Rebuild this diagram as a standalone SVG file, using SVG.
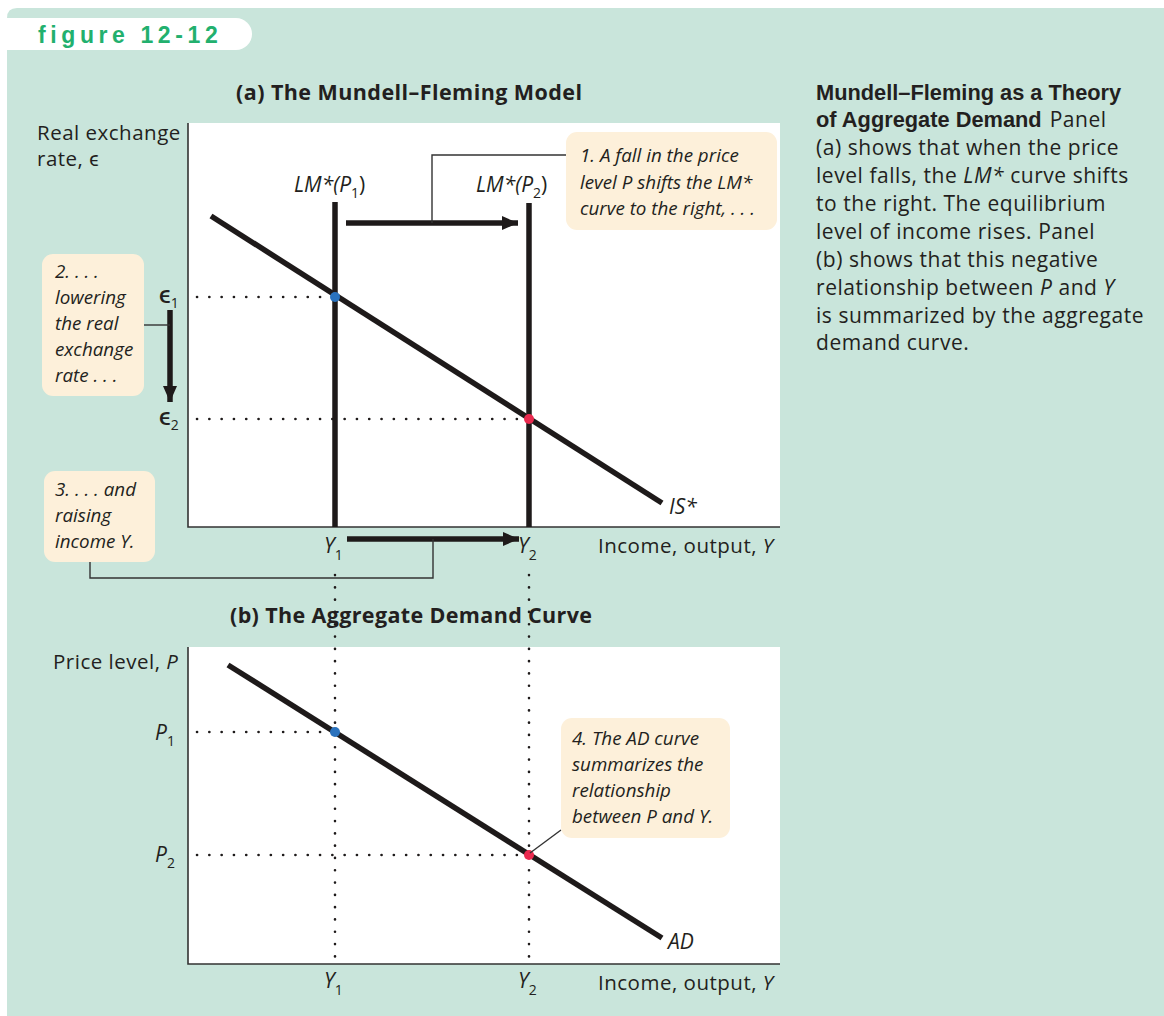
<svg xmlns="http://www.w3.org/2000/svg" width="1164" height="1016" viewBox="0 0 1164 1016">
<defs>
<style>
.bg{fill:#c9e5db}
.plot{fill:#ffffff}
.axis{stroke:#333;stroke-width:1.6;fill:none}
.curve{stroke:#1e1a1a;stroke-width:5.5;fill:none}
.dot{stroke:#1e1a1a;stroke-width:2.6;stroke-dasharray:0.1 12.2;stroke-linecap:round;fill:none}
.conn{stroke:#333;stroke-width:1.4;fill:none}
.note{fill:#fdf0da}
.nt{font-family:"Open Sans",Lato,sans-serif;font-style:italic;font-size:18.8px;fill:#231f20}
.lab{font-family:"Open Sans",Lato,sans-serif;font-size:20.5px;letter-spacing:0.5px;fill:#231f20}
.sym{font-family:"Open Sans",Lato,sans-serif;font-size:21px;font-style:italic;fill:#231f20}
.eps{font-family:"Open Sans",Lato,sans-serif;font-size:25px;font-weight:600;fill:#231f20}
.it{font-style:italic}
.sub{font-size:14px;font-style:normal;font-weight:normal}
.title{font-family:"Open Sans",Lato,sans-serif;font-weight:bold;font-size:21.5px;fill:#231f20}
.body{font-family:"Open Sans",Lato,sans-serif;font-size:21px;letter-spacing:0.55px;fill:#231f20}
.bold{font-family:"Liberation Sans",Arial,sans-serif;font-weight:bold;font-size:21.8px;fill:#231f20}
</style>
<marker id="ah" markerUnits="userSpaceOnUse" markerWidth="18" markerHeight="16" refX="16" refY="8" orient="auto">
<path d="M0,1 L16,8 L0,15 Z" fill="#1e1a1a"/>
</marker>
</defs>

<rect x="0" y="0" width="1164" height="1016" fill="#ffffff"/>
<path class="bg" d="M7,18 Q7,8 17,8 L1164,8 L1164,1016 L7,1016 Z"/>

<g id="tab">
<path d="M0,18 L236,18 A16,16 0 0 1 236,50 L0,50 Z" fill="#ffffff"/>
<text x="38" y="43" font-family="'Liberation Sans',Arial,sans-serif" font-weight="bold" font-size="23px" letter-spacing="4.6" fill="#22b06e">figure 12-12</text>
</g>

<g id="panel-a">
<rect class="plot" x="188" y="123" width="592" height="404"/>
<path class="axis" d="M188,123 L188,527 L780,527"/>
<text class="title" x="236" y="100" textLength="346" lengthAdjust="spacing">(a) The Mundell–Fleming Model</text>
<text class="lab" x="37" y="140">Real exchange</text>
<text class="lab" x="37" y="166">rate, ϵ</text>
<text class="lab" x="598" y="553">Income, output, <tspan class="it">Y</tspan></text>
</g>

<g id="panel-b">
<rect class="plot" x="188" y="647" width="592" height="317"/>
<path class="axis" d="M188,647 L188,964 L780,964"/>
<text class="title" x="230" y="623" textLength="362" lengthAdjust="spacing">(b) The Aggregate Demand Curve</text>
<text class="lab" x="53" y="669">Price level, <tspan class="it">P</tspan></text>
<text class="lab" x="598" y="990">Income, output, <tspan class="it">Y</tspan></text>
</g>

<g id="guides">
<path class="dot" d="M197,297 L333,297"/>
<path class="dot" d="M197,419 L527,419"/>
<path class="dot" d="M335,575 L335,960"/>
<path class="dot" d="M529,575 L529,960"/>
<path class="dot" d="M197,732 L333,732"/>
<path class="dot" d="M197,855 L527,855"/>
</g>

<g id="curves">
<path id="IS" class="curve" d="M211,216 L662,503"/>
<path id="LM1" class="curve" d="M335,202 L335,527"/>
<path id="LM2" class="curve" d="M529,203 L529,527"/>
<path id="AD" class="curve" d="M228,665 L662,938"/>
</g>

<g id="labels">
<text class="sym" x="294" y="192">LM*(P<tspan class="sub" dy="6">1</tspan><tspan dy="-6" font-style="normal">)</tspan></text>
<text class="sym" x="476" y="192">LM*(P<tspan class="sub" dy="6">2</tspan><tspan dy="-6" font-style="normal">)</tspan></text>
<text class="sym" x="669" y="514">IS*</text>
<text class="sym" x="668" y="949">AD</text>
<text class="eps" x="159" y="303">ϵ<tspan class="sub" dy="5">1</tspan></text>
<text class="eps" x="159" y="425">ϵ<tspan class="sub" dy="5">2</tspan></text>
<text class="sym" x="155" y="740">P<tspan class="sub" dy="6">1</tspan></text>
<text class="sym" x="155" y="862">P<tspan class="sub" dy="6">2</tspan></text>
<text class="sym" x="324" y="553">Y<tspan class="sub" dy="7">1</tspan></text>
<text class="sym" x="518" y="553">Y<tspan class="sub" dy="7">2</tspan></text>
<text class="sym" x="324" y="988">Y<tspan class="sub" dy="7">1</tspan></text>
<text class="sym" x="518" y="988">Y<tspan class="sub" dy="7">2</tspan></text>
</g>

<g id="points">
<circle cx="335" cy="297" r="5" fill="#2a72bd"/>
<circle cx="529" cy="419" r="5" fill="#ea2a4f"/>
<circle cx="335" cy="732" r="5" fill="#2a72bd"/>
<circle cx="529" cy="855" r="5" fill="#ea2a4f"/>
</g>

<g id="connectors">
<path class="curve" d="M346,223 L518,223" marker-end="url(#ah)" stroke-width="5"/>
<path class="curve" d="M170,310 L170,402" marker-end="url(#ah)" stroke-width="5"/>
<path class="curve" d="M347,539 L519,539" marker-end="url(#ah)" stroke-width="5"/>
<path class="conn" d="M432,223 L432,155 L566,155"/>
<path class="conn" d="M144,325 L170,325"/>
<path class="conn" d="M90,562 L90,578 L433,578 L433,539"/>
<path class="conn" d="M561,830 L530,853"/>
</g>

<g id="note1">
<rect class="note" x="566" y="132" width="211" height="98" rx="11"/>
<text class="nt" x="580" y="162">1. A fall in the price</text>
<text class="nt" x="580" y="189">level P shifts the LM*</text>
<text class="nt" x="580" y="215">curve to the right, . . .</text>
</g>

<g id="note2">
<rect class="note" x="42" y="254" width="102" height="142" rx="11"/>
<text class="nt" x="55" y="278">2. . . .</text>
<text class="nt" x="55" y="304">lowering</text>
<text class="nt" x="55" y="330">the real</text>
<text class="nt" x="55" y="356">exchange</text>
<text class="nt" x="55" y="382">rate . . .</text>
</g>

<g id="note3">
<rect class="note" x="44" y="471" width="111" height="91" rx="11"/>
<text class="nt" x="55" y="496">3. . . . and</text>
<text class="nt" x="55" y="522">raising</text>
<text class="nt" x="55" y="548">income Y.</text>
</g>

<g id="note4">
<rect class="note" x="561" y="718" width="169" height="120" rx="11"/>
<text class="nt" x="572" y="745">4. The AD curve</text>
<text class="nt" x="572" y="771">summarizes the</text>
<text class="nt" x="572" y="797">relationship</text>
<text class="nt" x="572" y="823">between P and Y.</text>
</g>

<g id="caption">
<text class="bold" x="816" y="100">Mundell–Fleming as a Theory</text>
<text x="816" y="127"><tspan class="bold">of Aggregate Demand</tspan><tspan class="body" dx="8">Panel</tspan></text>
<text class="body" x="816" y="155">(a) shows that when the price</text>
<text class="body" x="816" y="183">level falls, the <tspan class="it">LM*</tspan> curve shifts</text>
<text class="body" x="816" y="211">to the right. The equilibrium</text>
<text class="body" x="816" y="239">level of income rises. Panel</text>
<text class="body" x="816" y="267">(b) shows that this negative</text>
<text class="body" x="816" y="295">relationship between <tspan class="it">P</tspan> and <tspan class="it">Y</tspan></text>
<text class="body" x="816" y="323">is summarized by the aggregate</text>
<text class="body" x="816" y="350">demand curve.</text>
</g>
</svg>
